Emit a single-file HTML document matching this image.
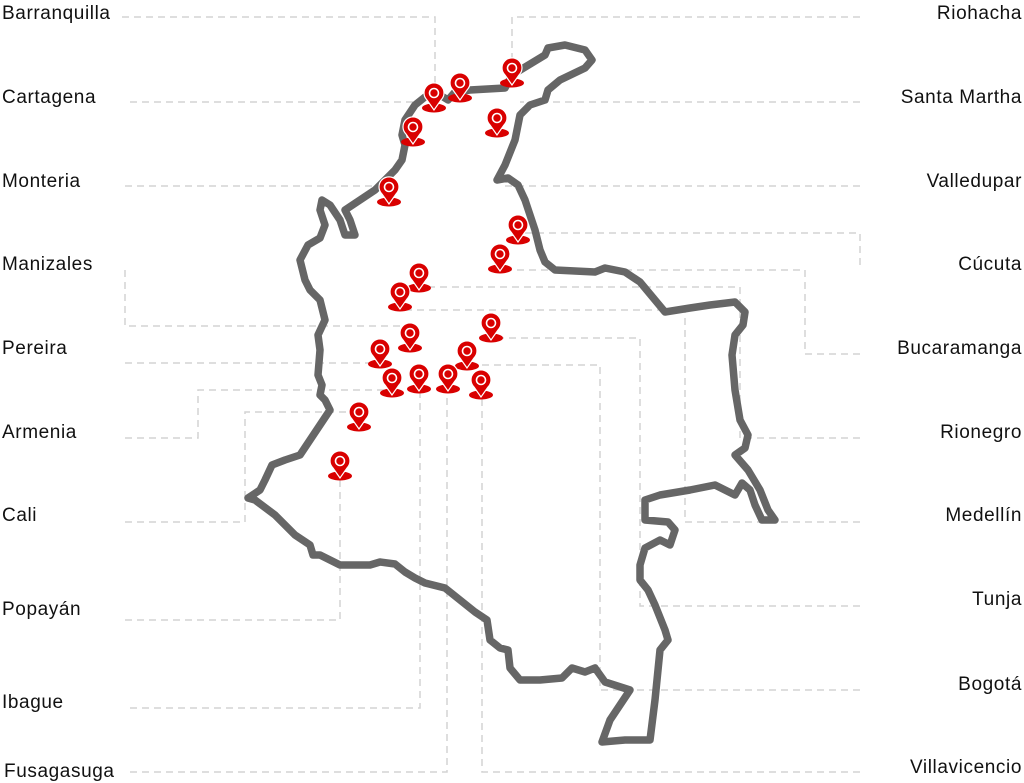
<!DOCTYPE html>
<html><head><meta charset="utf-8"><style>
html,body{margin:0;padding:0;background:#fff;}
svg{display:block;}
text{font-family:"Liberation Sans",sans-serif;font-size:19px;fill:#111;letter-spacing:0.6px;}
</style></head><body>
<svg width="1024" height="783" viewBox="0 0 1024 783" xmlns="http://www.w3.org/2000/svg">
<defs>
<g id="pin">
<ellipse cx="0" cy="-2" rx="12" ry="4.5" fill="#d90000"/>
<path d="M0,0 L-7,-10 A10,10 0 1 1 7,-10 Z" fill="#d90000" stroke="#fff" stroke-width="1.2"/>
<circle cx="0" cy="-17" r="4.5" fill="none" stroke="#fff" stroke-width="1.6"/>
</g>
</defs>
<g fill="none" stroke="#d4d4d4" stroke-width="1.5" stroke-dasharray="7,5">
<polyline points="122,17 435,17 435,95"/>
<polyline points="130,102 420,102"/>
<polyline points="860,17 512,17 512,70"/>
<polyline points="860,102 520,102"/>
<polyline points="125,186 385,186"/>
<polyline points="860,186 500,186"/>
<polyline points="125,270 125,326 400,326"/>
<polyline points="860,265 860,233 520,233"/>
<polyline points="860,354 805,354 805,270 500,270"/>
<polyline points="860,438 740,438 740,287 420,287"/>
<polyline points="860,522 685,522 685,310 400,310"/>
<polyline points="860,606 640,606 640,338 490,338"/>
<polyline points="860,690 600,690 600,365 467,365"/>
<polyline points="860,772 482,772 482,395"/>
<polyline points="130,772 447,772 447,385"/>
<polyline points="130,708 420,708 420,385"/>
<polyline points="125,620 340,620 340,478"/>
<polyline points="125,522 245,522 245,412 360,412"/>
<polyline points="125,438 198,438 198,390 392,390"/>
<polyline points="125,363 380,363"/>
</g>
<path fill="none" stroke="#666" stroke-width="7.5" stroke-linejoin="round" d="M512,75 L545,55 548,48 565,45 585,50 592,60 585,68 560,80 548,90 545,100 530,105 520,115 515,140 505,165 497,180 508,178 518,185 525,200 530,215 535,230 540,250 545,262 555,270 595,272 605,268 625,272 640,282 655,300 665,312 690,308 710,305 735,302 745,312 743,325 735,335 732,355 735,390 740,420 748,435 745,448 735,455 748,470 760,490 768,510 775,520 762,520 755,505 750,490 742,483 735,495 725,490 715,485 690,490 660,495 645,500 645,520 668,522 675,530 670,545 660,540 645,548 640,565 640,580 648,590 655,605 665,630 668,640 660,650 655,700 650,740 640,740 625,740 602,742 610,720 630,690 605,682 595,668 585,672 572,668 562,678 540,680 520,680 510,668 508,650 500,648 490,640 487,620 475,612 460,600 445,588 425,583 415,578 405,572 395,564 380,562 370,565 340,565 320,555 313,555 310,545 295,535 275,515 255,500 248,498 260,490 265,480 272,465 285,460 300,455 310,440 320,425 330,410 325,400 320,395 322,385 318,375 320,350 318,335 325,320 320,300 310,290 305,280 300,260 308,245 320,238 325,225 320,210 322,200 330,205 340,220 345,235 355,235 350,220 345,210 360,200 375,190 385,180 395,170 402,160 405,145 402,135 405,120 415,105 425,97 440,95 448,100 455,92 470,90 505,88 Z"/>
<g>
<use href="#pin" x="434" y="110"/>
<use href="#pin" x="460" y="100"/>
<use href="#pin" x="512" y="85"/>
<use href="#pin" x="413" y="144"/>
<use href="#pin" x="497" y="135"/>
<use href="#pin" x="389" y="204"/>
<use href="#pin" x="518" y="242"/>
<use href="#pin" x="500" y="271"/>
<use href="#pin" x="419" y="290"/>
<use href="#pin" x="400" y="309"/>
<use href="#pin" x="491" y="340"/>
<use href="#pin" x="410" y="350"/>
<use href="#pin" x="380" y="366"/>
<use href="#pin" x="467" y="368"/>
<use href="#pin" x="392" y="395"/>
<use href="#pin" x="419" y="391"/>
<use href="#pin" x="448" y="391"/>
<use href="#pin" x="481" y="397"/>
<use href="#pin" x="359" y="429"/>
<use href="#pin" x="340" y="478"/>
</g>
<g>
<text x="2" y="19">Barranquilla</text>
<text x="2" y="103">Cartagena</text>
<text x="2" y="187">Monteria</text>
<text x="2" y="270">Manizales</text>
<text x="2" y="354">Pereira</text>
<text x="2" y="438">Armenia</text>
<text x="2" y="521">Cali</text>
<text x="2" y="615">Popayán</text>
<text x="2" y="708">Ibague</text>
<text x="4" y="777">Fusagasuga</text>
</g>
<g text-anchor="end">
<text x="1022" y="19">Riohacha</text>
<text x="1022" y="103">Santa Martha</text>
<text x="1022" y="187">Valledupar</text>
<text x="1022" y="270">Cúcuta</text>
<text x="1022" y="354">Bucaramanga</text>
<text x="1022" y="438">Rionegro</text>
<text x="1022" y="521">Medellín</text>
<text x="1022" y="605">Tunja</text>
<text x="1022" y="690">Bogotá</text>
<text x="1022" y="773">Villavicencio</text>
</g>
</svg>
</body></html>
